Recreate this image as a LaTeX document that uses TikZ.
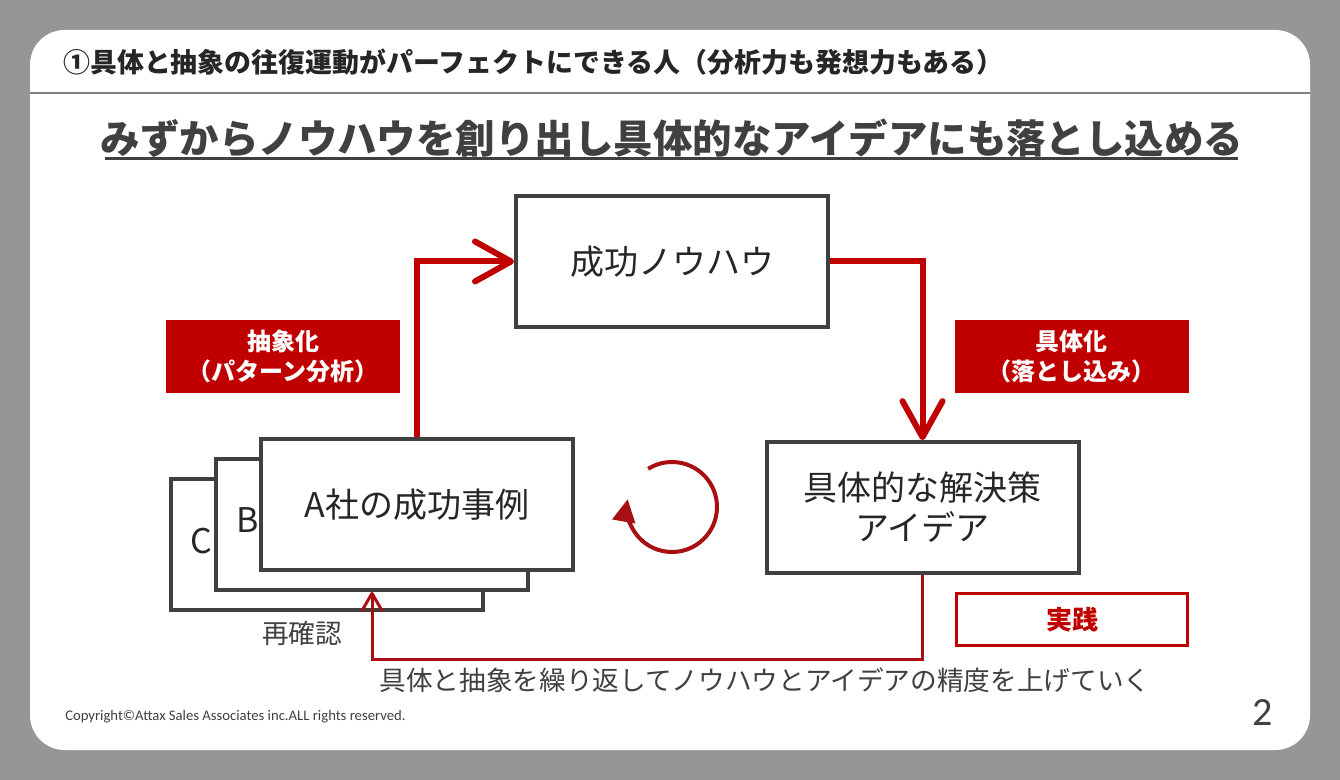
\documentclass[tikz,border=0pt]{standalone}
\usepackage{fontspec}
\setmainfont{Noto Sans CJK JP}
\newfontfamily\carl{Carlito}
\usetikzlibrary{arrows.meta}
\definecolor{bg}{HTML}{969696}
\definecolor{dred}{HTML}{C00000}
\definecolor{ddred}{HTML}{A80F12}
\definecolor{dgray}{HTML}{404040}
\definecolor{hdr}{HTML}{262626}
\newcommand\fsz[1]{\fontsize{#1pt}{#1pt}\selectfont}
\tikzset{
  box/.style={draw=dgray, line width=3pt, fill=white, minimum width=234pt, minimum height=98pt, inner sep=0pt, text=hdr, font=\fsz{25.5}, align=center},
  redlab/.style={fill=dred, text=white, font=\bfseries\fontsize{18pt}{22pt}\selectfont, minimum width=175.5pt, minimum height=54.75pt, align=center, inner sep=0pt},
  redarrow/.style={draw=dred, line width=4.5pt, -{Straight Barb[length=27pt,width=30pt,round]}},
  thinarrow/.style={draw=ddred, line width=2.25pt, -{Straight Barb[length=13pt,width=15pt,round]}},
  plain/.style={text=dgray, inner sep=0pt}
}
\begin{document}
\begin{tikzpicture}[x=0.75pt,y=-0.75pt]
\useasboundingbox (0,0) rectangle (1340,780);
\fill[bg] (0,0) rectangle (1340,780);
\fill[white, rounded corners=26pt] (30,30) rectangle (1310,750);
\draw[gray, line width=1pt] (30,93) -- (1310,93);

\node[plain, text=hdr, anchor=west, font=\bfseries\fsz{20.2}] (hdr) at (63,62) {①具体と抽象の往復運動がパーフェクトにできる人（分析力も発想力もある）};
\node[plain, font=\bfseries\fsz{29.6}] (title) at (672,138) {みずからノウハウを創り出し具体的なアイデアにも落とし込める};
\draw[dgray, line width=2.25pt] (105,159) -- (1238,159);

\node[box] (C) at (327,544.5) {};
\node[box] (B) at (372,524.5) {};
\node[box] (A) at (417,504.5) {A社の成功事例};
\node[plain, text=hdr, font=\fsz{25.5}] (Clab) at (201,541) {C};
\node[plain, text=hdr, font=\fsz{25.5}] (Blab) at (248,520) {B};

\node[box] (succ) at (672,261.5) {成功ノウハウ};
\node[box, font=\fontsize{25.5pt}{30pt}\selectfont] (idea) at (922.5,507.5) {具体的な解決策\\アイデア};

\node[redlab] (abs) at (283,356.5) {抽象化\\（パターン分析）};
\node[redlab] (con) at (1071.5,356.5) {具体化\\（落とし込み）};
\node[draw=dred, line width=2.25pt, minimum width=173pt, minimum height=39pt, text=dred, font=\bfseries\fsz{19.5}, inner sep=0pt] (prac) at (1072,619.5) {実践};

\draw[redarrow] (A.north) |- (succ.west);
\draw[redarrow] (succ.east) -| (idea.north);

\coordinate (bot) at (0,659);
\draw[thinarrow] (idea.south) -- (idea.south |- bot) -- (B.south |- bot) -- (B.south);

\coordinate (cyc) at (672,507);
\draw[draw=ddred, line width=3pt, -{Triangle[length=17pt,width=17pt]}] (cyc) ++(-122:45) arc[start angle=-122, end angle=190, radius=45];

\node[plain, font=\fsz{20}] (recheck) at (302,633) {再確認};
\node[plain, font=\fsz{20}] (bottom) at (765,680) {具体と抽象を繰り返してノウハウとアイデアの精度を上げていく};
\node[plain, anchor=west, font=\carl\fsz{11}] (copy) at (65,717) {Copyright©Attax Sales Associates inc.ALL rights reserved.};
\node[plain, font=\carl\fsz{30}] (pg) at (1263,713) {2};
\end{tikzpicture}
\end{document}
